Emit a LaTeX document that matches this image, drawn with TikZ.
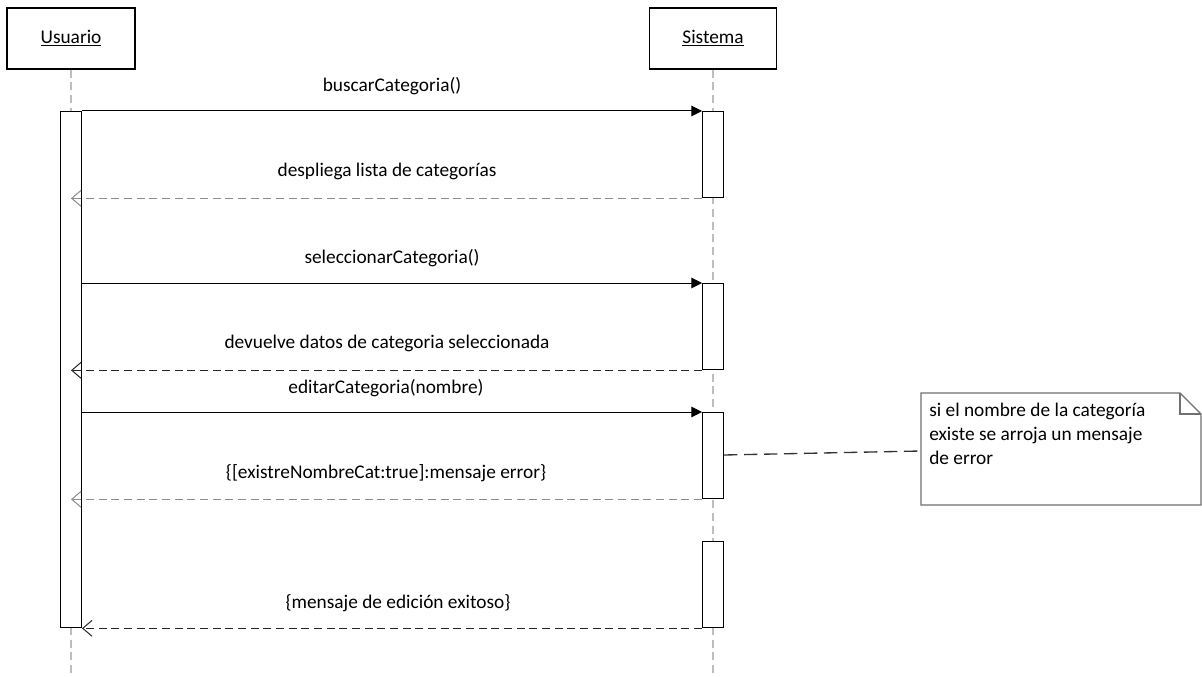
\documentclass[tikz,border=0pt]{standalone}
\usepackage{fontspec}
\setmainfont{Carlito}
\usetikzlibrary{arrows.meta}

\definecolor{lifegray}{HTML}{BDBDBD}
\definecolor{retgray}{HTML}{8C8C8C}
\definecolor{notegray}{HTML}{707070}

\tikzset{
  objbox/.style={draw, line width=1pt, minimum width=96pt, minimum height=45.75pt},
  actbox/.style={draw, line width=1pt, fill=white, minimum width=15.5pt, anchor=north, inner sep=0pt},
  lifeline/.style={lifegray, line width=1pt, dash pattern=on 6pt off 3.5pt},
  callmsg/.style={line width=0.75pt, -{Triangle[length=8pt, width=8pt]}},
  retmsg/.style={line width=0.75pt, dash pattern=on 6pt off 3.5pt, -{Straight Barb[length=7pt, width=12pt, line width=0.75pt]}},
  msglabel/.style={font=\fontsize{14.5}{17}\selectfont, anchor=base}
}

\begin{document}
\begin{tikzpicture}[x=0.75pt, y=-0.75pt]

\useasboundingbox (0,0) rectangle (1202,677);

% Objects
\node[objbox] (usuario) at (71,38.5) {\fontsize{14.5}{17}\selectfont\underline{Usuario}};
\node[objbox, minimum width=95pt] (sistema) at (713,38.5) {\fontsize{14.5}{17}\selectfont\underline{Sistema}};

% Lifelines
\coordinate (uend) at (71,677);
\coordinate (send) at (713,677);
\draw[lifeline] (usuario.south) -- (uend);
\draw[lifeline] (sistema.south) -- (send);

% Activation bars
\node[actbox, minimum height=387pt] (ua) at (71,111) {};
\node[actbox, minimum height=64.5pt] (sa1) at (713,111) {};
\node[actbox, minimum height=64.5pt] (sa2) at (713,283) {};
\node[actbox, minimum height=64.5pt] (sa3) at (713,412) {};
\node[actbox, minimum height=64.5pt] (sa4) at (713,541) {};

% Messages
\draw[callmsg] (ua.east |- sa1.north) -- (sa1.north west);
\node[msglabel] at (392,92) {buscarCategoria()};

\draw[retmsg, retgray] (sa1.south west) -- (ua |- sa1.south);
\node[msglabel] at (387,177) {despliega lista de categorías};

\draw[callmsg] (ua.east |- sa2.north) -- (sa2.north west);
\node[msglabel] at (392,263) {seleccionarCategoria()};

\draw[retmsg, black!85] (sa2.south west) -- (ua |- sa2.south);
\node[msglabel] at (387,348) {devuelve datos de categoria seleccionada};

\draw[callmsg] (ua.east |- sa3.north) -- (sa3.north west);
\node[msglabel] at (386,393) {editarCategoria(nombre)};

\draw[retmsg, retgray] (sa3.south west) -- (ua |- sa3.south);
\node[msglabel] at (386,478) {\{[existreNombreCat:true]:mensaje error\}};

\draw[retmsg, black!85] (sa4.south west) -- (ua.south east);
\node[msglabel] at (398,608) {\{mensaje de edición exitoso\}};

% Note
\draw[notegray, line width=1pt, fill=white] (921,393) -- (1180,393) -- (1201,414) -- (1201,505) -- (921,505) -- cycle;
\draw[notegray, line width=1pt] (1180,393) -- (1180,414) -- (1201,414);
\node[anchor=north west, align=left, inner sep=0pt, font=\fontsize{14.5}{18}\selectfont] (note) at (929,403)
  {si el nombre de la categoría\\existe se arroja un mensaje\\de error};
\coordinate (notein) at (921,451);
\draw[line width=1pt, black!80, dash pattern=on 10pt off 5pt] (sa3.east |- 0,455) -- (notein);

\end{tikzpicture}
\end{document}
